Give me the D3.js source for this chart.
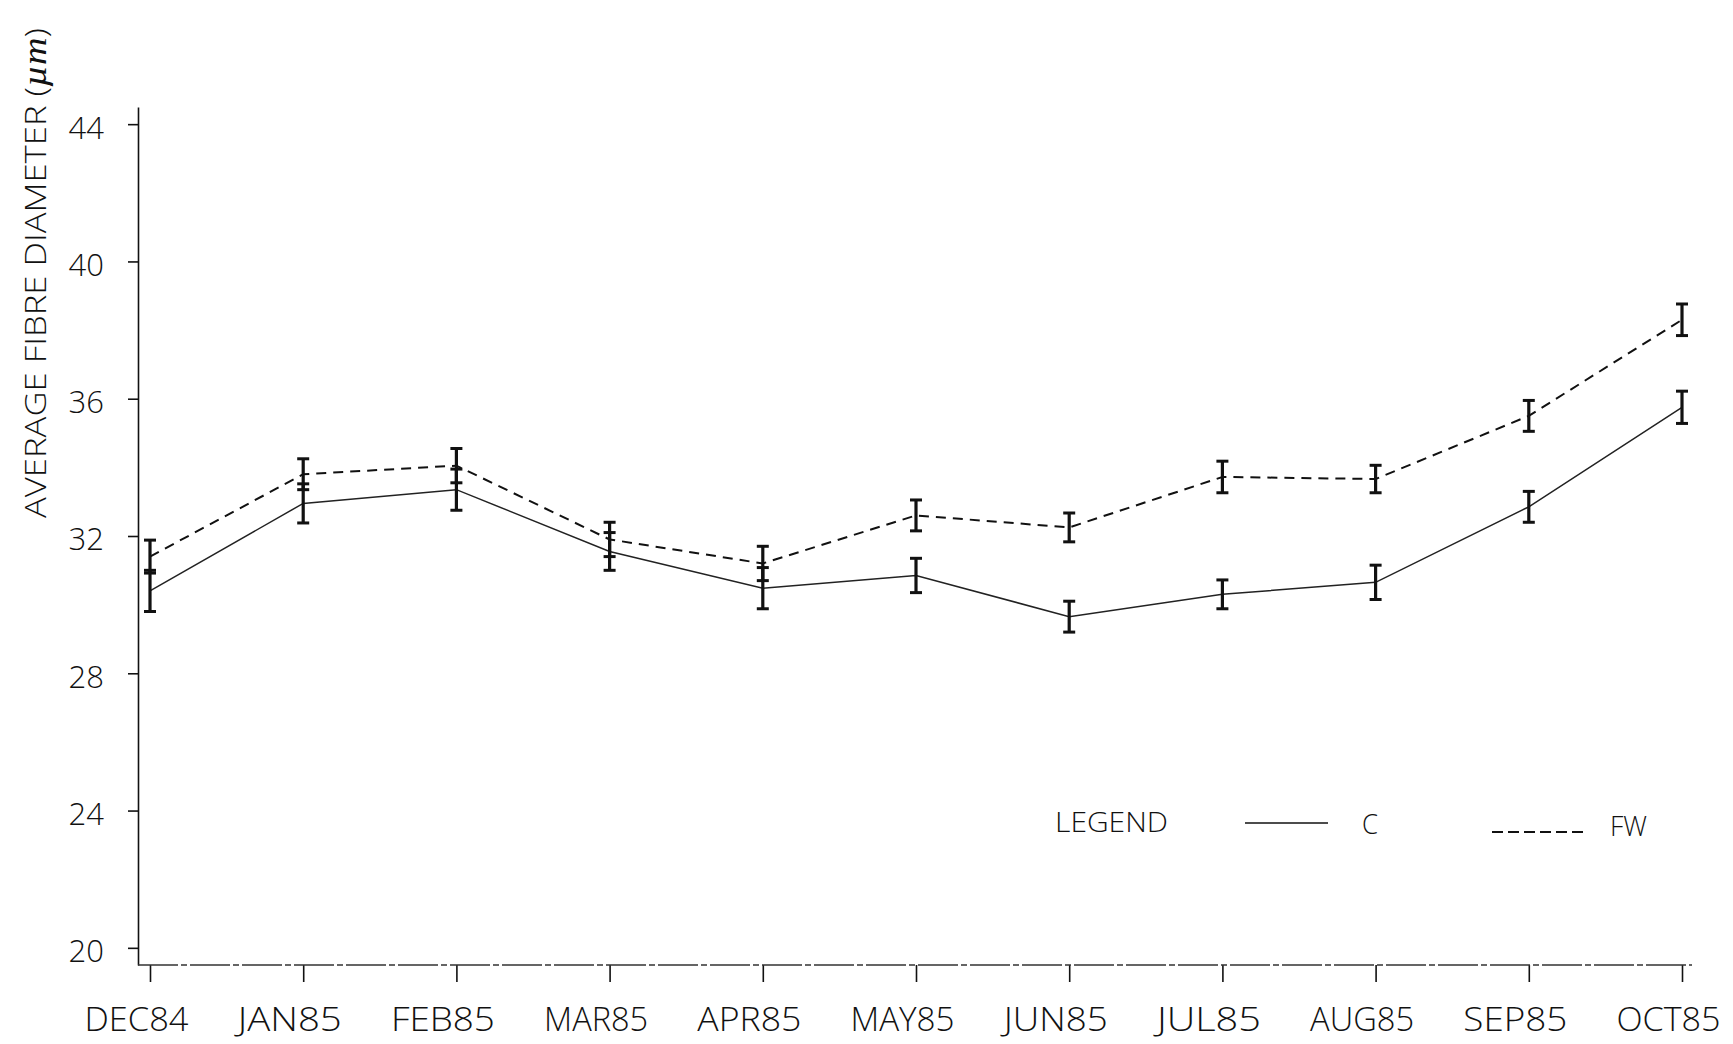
<!DOCTYPE html>
<html>
<head>
<meta charset="utf-8">
<script src="https://cdn.jsdelivr.net/npm/d3@7"></script>
<style>
  html, body { margin: 0; padding: 0; background: #fff; }
  svg { display: block; }
  text { font-family: "Open Sans", "Liberation Sans", Arial, sans-serif; font-weight: 300; fill: #111; }
</style>
</head>
<body>
<svg id="chart" width="1733" height="1044"></svg>
<script>
// Monthly sampling dates
const months = ["DEC84", "JAN85", "FEB85", "MAR85", "APR85", "MAY85",
                "JUN85", "JUL85", "AUG85", "SEP85", "OCT85"];

// Group C: mean fibre diameter (µm) and error half-width
const cMean = [30.4, 32.95, 33.35, 31.55, 30.48, 30.85, 29.65, 30.3, 30.65, 32.85, 35.75];
const cErr  = [0.6, 0.57, 0.6, 0.55, 0.6, 0.5, 0.45, 0.42, 0.5, 0.45, 0.47];

// Group FW: mean fibre diameter (µm) and error half-width
const fwMean = [31.4, 33.8, 34.05, 31.9, 31.2, 32.6, 32.25, 33.72, 33.66, 35.5, 38.3];
const fwErr  = [0.48, 0.45, 0.5, 0.5, 0.5, 0.45, 0.42, 0.46, 0.4, 0.45, 0.46];

const yTicks = [20, 24, 28, 32, 36, 40, 44];

const svg = d3.select("#chart");
const ink = "#111";
const font = '"Open Sans", "Liberation Sans", Arial, sans-serif';

const x = d3.scalePoint().domain(months).range([150, 1682]);
const y = d3.scaleLinear().domain([19.5, 44.5]).range([965, 107]);
const axisX = 138;

// Y axis
const yAxis = d3.axisLeft(y).tickValues(yTicks).tickSize(10).tickSizeOuter(0).tickPadding(24);
const gy = svg.append("g").attr("transform", `translate(${axisX},0)`).call(yAxis);
gy.select(".domain").attr("stroke", ink).attr("stroke-width", 1.6);
gy.selectAll(".tick line").attr("stroke", ink).attr("stroke-width", 1.6);
gy.selectAll(".tick text")
  .style("font-family", font).style("font-weight", 300)
  .style("font-size", "31px").attr("fill", ink).attr("dy", "0.45em");

// X axis
const xAxis = d3.axisBottom(x).tickSize(17).tickSizeOuter(0).tickPadding(26);
const gx = svg.append("g").attr("transform", `translate(0,${y(19.5)})`).call(xAxis);
gx.select(".domain").remove();
gx.append("line").attr("x1", axisX).attr("x2", 1692).attr("y1", 0).attr("y2", 0)
  .attr("stroke", "#333").attr("stroke-width", 1.3).attr("stroke-dasharray", "40,3,6,3");
gx.selectAll(".tick line").attr("stroke", ink).attr("stroke-width", 1.6);
gx.selectAll(".tick text")
  .style("font-family", font).style("font-weight", 300)
  .style("font-size", "33px").attr("fill", ink).attr("dy", "0.71em")
  .attr("x", -14).attr("textLength", 104).attr("lengthAdjust", "spacingAndGlyphs");

// Y axis title
const title = svg.append("text")
  .attr("transform", `translate(46,273) rotate(-90)`)
  .attr("text-anchor", "middle")
  .attr("textLength", 490).attr("lengthAdjust", "spacingAndGlyphs")
  .style("font-size", "30px");
title.append("tspan").text("AVERAGE FIBRE DIAMETER (");
title.append("tspan").text("µm")
  .style("font-family", '"Liberation Serif", serif').style("font-style", "italic")
  .style("font-size", "33px");
title.append("tspan").text(")");

// Series lines
const line = d3.line().x((d, i) => x(months[i])).y(d => y(d));

svg.append("path").datum(cMean).attr("d", line)
  .attr("fill", "none").attr("stroke", "#222").attr("stroke-width", 1.5);

svg.append("path").datum(fwMean).attr("d", line)
  .attr("fill", "none").attr("stroke", ink).attr("stroke-width", 2)
  .attr("stroke-dasharray", "10,7");

// Error bars
function errorBars(means, errs) {
  const g = svg.append("g").attr("stroke", ink).attr("fill", "none");
  means.forEach((m, i) => {
    const cx = x(months[i]);
    const top = y(m + errs[i]), bot = y(m - errs[i]);
    g.append("line").attr("x1", cx).attr("x2", cx).attr("y1", top).attr("y2", bot)
      .attr("stroke-width", 3.2);
    [top, bot].forEach(v => {
      g.append("line").attr("x1", cx - 6).attr("x2", cx + 6).attr("y1", v).attr("y2", v)
        .attr("stroke-width", 3);
    });
  });
}
errorBars(cMean, cErr);
errorBars(fwMean, fwErr);

// Legend
const leg = svg.append("g");
leg.append("text").attr("x", 1055).attr("y", 832).attr("textLength", 113)
  .attr("lengthAdjust", "spacingAndGlyphs").style("font-size", "27px").text("LEGEND");
leg.append("line").attr("x1", 1245).attr("x2", 1328).attr("y1", 823).attr("y2", 823)
  .attr("stroke", ink).attr("stroke-width", 1.5);
leg.append("text").attr("x", 1362).attr("y", 834).attr("textLength", 16)
  .attr("lengthAdjust", "spacingAndGlyphs").style("font-size", "27px").text("C");
leg.append("line").attr("x1", 1492).attr("x2", 1586).attr("y1", 832).attr("y2", 832)
  .attr("stroke", ink).attr("stroke-width", 2).attr("stroke-dasharray", "11,5");
leg.append("text").attr("x", 1610).attr("y", 836).attr("textLength", 37)
  .attr("lengthAdjust", "spacingAndGlyphs").style("font-size", "27px").text("FW");
</script>
</body>
</html>
